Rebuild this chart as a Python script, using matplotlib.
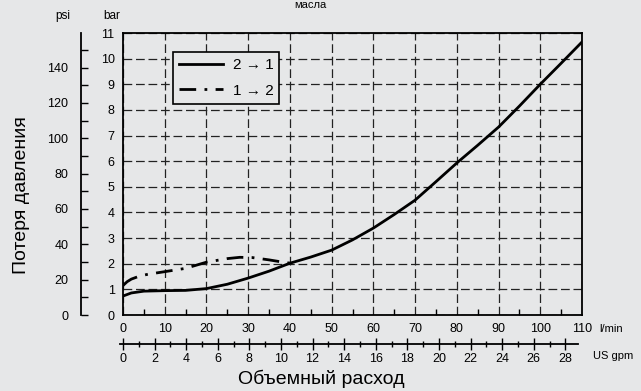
import matplotlib.pyplot as plt
import numpy as np
from matplotlib.ticker import MultipleLocator

plt.rcParams["font.family"] = ["Liberation Sans", "DejaVu Sans"]

# flow, l/min
flow = [0, 2, 5, 10, 15, 20, 25, 30, 35, 40, 45, 50, 55, 60, 65, 70, 75, 80, 85, 90, 95, 100, 105, 110]
# pressure drop 2 -> 1, bar
dp_21 = [0.74, 0.86, 0.93, 0.95, 0.96, 1.03, 1.2, 1.44, 1.71, 2.02, 2.26, 2.53, 2.93, 3.39, 3.92, 4.48, 5.2, 5.93, 6.62, 7.33, 8.15, 9.0, 9.82, 10.65]
# pressure drop 1 -> 2, bar
flow_12 = [0, 1, 2, 4, 6, 10, 15, 20, 25, 28, 31, 35, 38, 41]
dp_12 = [1.15, 1.3, 1.4, 1.52, 1.59, 1.69, 1.82, 2.06, 2.2, 2.25, 2.24, 2.15, 2.07, 2.0]

bg = "#e6e7e8"
W, H = 641, 391
fig = plt.figure(figsize=(W / 100, H / 100), dpi=100, facecolor=bg)


def fx(px):
    return px / W


def fy(py):
    return 1 - py / H


left, right, top, bottom = 123, 582, 33, 315
ax = fig.add_axes([fx(left), fy(bottom), fx(right - left), fy(top) - fy(bottom)])
ax.set_facecolor(bg)
ax.set_xlim(0, 110)
ax.set_ylim(0, 11)
ax.xaxis.set_major_locator(MultipleLocator(10))
ax.xaxis.set_minor_locator(MultipleLocator(5))
ax.yaxis.set_major_locator(MultipleLocator(1))
ax.grid(True, which="major", color="#222222", linestyle=(0, (7, 3)), linewidth=0.9)
ax.tick_params(axis="both", which="major", length=0, labelsize=9, pad=6)
ax.tick_params(axis="x", which="minor", direction="in", length=4, width=1)
for s in ax.spines.values():
    s.set_linewidth(1.3)

ax.plot(flow, dp_21, color="black", linewidth=2, label="2 → 1")
ax.plot(flow_12, dp_12, color="black", linewidth=2, linestyle=(0, (6, 3, 1, 3)), label="1 → 2")

leg = ax.legend(loc="upper left", bbox_to_anchor=(fx(173), fy(52)), bbox_transform=fig.transFigure,
                fontsize=11, frameon=True, fancybox=False, framealpha=1, handlelength=2.9,
                borderpad=0.4, labelspacing=0.75, handletextpad=0.6, borderaxespad=0)
leg.get_frame().set_edgecolor("black")
leg.get_frame().set_facecolor(bg)
leg.get_frame().set_linewidth(1.2)

# psi axis
psi = fig.add_axes([fx(81), fy(bottom), 0.01, fy(top) - fy(bottom)])
psi.patch.set_visible(False)
for k in ("top", "right", "bottom"):
    psi.spines[k].set_visible(False)
psi.spines["left"].set_linewidth(1.3)
psi.set_ylim(0, 11 * 14.5038)
psi.set_xticks([])
psi.yaxis.set_major_locator(MultipleLocator(20))
psi.yaxis.set_minor_locator(MultipleLocator(10))
psi.tick_params(axis="y", which="both", direction="in", length=5, width=1, labelsize=9, pad=9)

# US gpm axis
gpm_y = 344
gpm = fig.add_axes([fx(120), fy(gpm_y), fx(578 - 120), 0.01])
gpm.patch.set_visible(False)
for k in ("top", "right", "left"):
    gpm.spines[k].set_visible(False)
gpm.spines["bottom"].set_linewidth(1.3)
g0 = -3 / 4.173 / 3.78541
gpm.set_xlim(g0, g0 + (578 - 120) / 4.173 / 3.78541)
gpm.set_yticks([])
gpm.xaxis.set_minor_locator(MultipleLocator(1))
gpm.set_xticks(np.arange(0, 29, 2))
gpm.tick_params(axis="x", which="major", direction="inout", length=9, width=1, labelsize=9, pad=2)
gpm.tick_params(axis="x", which="minor", direction="inout", length=5, width=1)

fig.text(fx(599), fy(329), "l/min", fontsize=8, ha="left", va="center")
fig.text(fx(613), fy(356), "US gpm", fontsize=8, ha="center", va="center")
fig.text(fx(63), fy(16), "psi", fontsize=8.5, ha="center", va="center")
fig.text(fx(112), fy(16), "bar", fontsize=8.5, ha="center", va="center")
fig.text(fx(310), fy(0), "масла", fontsize=8, ha="center", va="top")
fig.text(fx(321), fy(379), "Объемный расход", fontsize=14, ha="center", va="center")
fig.text(fx(22), fy(195), "Потеря давления", fontsize=14, ha="center", va="center", rotation=90)

fig.savefig("out.png", dpi=100, facecolor=bg)
